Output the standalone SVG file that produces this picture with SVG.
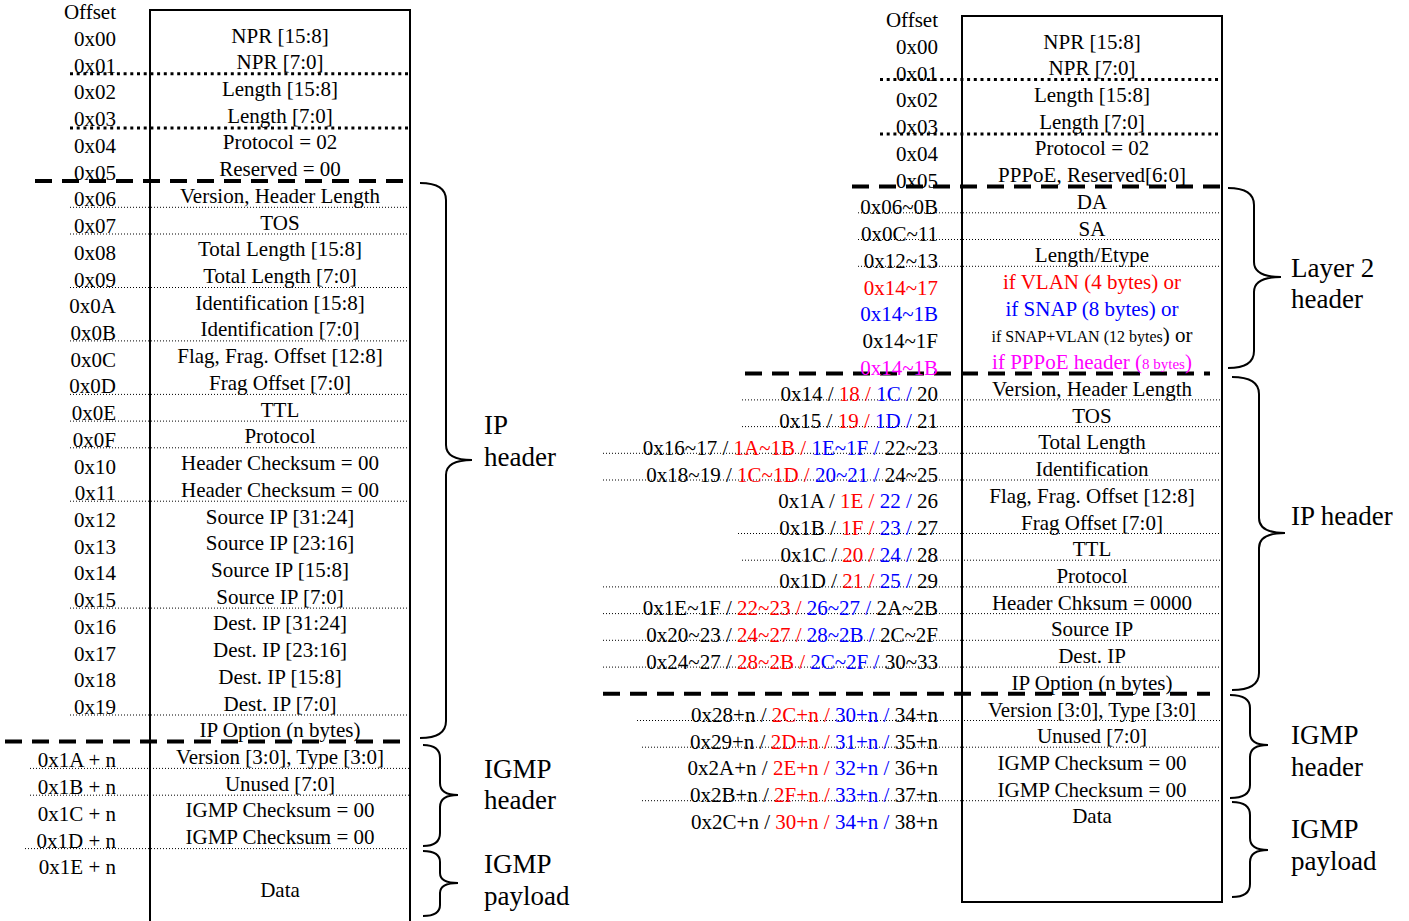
<svg xmlns="http://www.w3.org/2000/svg" width="1409" height="921" viewBox="0 0 1409 921">
<style>
text{font-family:"Liberation Serif","Times New Roman",serif;font-size:21px;fill:#000}
.o{text-anchor:end}
.c{text-anchor:middle}
.lbl{font-size:27px}
.r{fill:#ff0000}
.b{fill:#0000ff}
.m{fill:#ff00ff}
.box{fill:none;stroke:#000;stroke-width:2}
.dT{stroke:#000;stroke-width:3;stroke-dasharray:3 3.7;fill:none}
.d{stroke:#000;stroke-width:1;stroke-dasharray:1 2;fill:none}
.dash{stroke:#000;stroke-width:4;stroke-dasharray:17 10;fill:none}
.br{fill:none;stroke:#000;stroke-width:2}
</style>
<rect width="1409" height="921" fill="#fff"/>

<g id="left-table">
<path class="box" d="M150,921 V10 H410 V921"/>
<g id="left-lines">
<line class="dT" x1="70" y1="73.7" x2="410" y2="73.7"/>
<line class="dT" x1="70" y1="128" x2="410" y2="128"/>
<line class="dash" x1="35" y1="181" x2="410" y2="181"/>
<line class="d" x1="70" y1="207.3" x2="410" y2="207.3"/>
<line class="d" x1="70" y1="234" x2="410" y2="234"/>
<line class="d" x1="70" y1="287.5" x2="410" y2="287.5"/>
<line class="d" x1="70" y1="340.9" x2="410" y2="340.9"/>
<line class="d" x1="70" y1="394.4" x2="410" y2="394.4"/>
<line class="d" x1="70" y1="421.1" x2="410" y2="421.1"/>
<line class="d" x1="70" y1="447.8" x2="410" y2="447.8"/>
<line class="d" x1="70" y1="501.2" x2="410" y2="501.2"/>
<line class="d" x1="70" y1="608.1" x2="410" y2="608.1"/>
<line class="d" x1="70" y1="715" x2="410" y2="715"/>
<line class="dash" x1="5" y1="741.5" x2="410" y2="741.5"/>
<line class="d" x1="30" y1="768.4" x2="410" y2="768.4"/>
<line class="d" x1="30" y1="795.2" x2="410" y2="795.2"/>
<line class="d" x1="25" y1="848.6" x2="410" y2="848.6"/>
</g>
<g id="left-offsets">
<text class="o" x="116" y="19.3">Offset</text>
<text class="o" x="116" y="46">0x00</text>
<text class="o" x="116" y="72.7">0x01</text>
<text class="o" x="116" y="99.4">0x02</text>
<text class="o" x="116" y="126.2">0x03</text>
<text class="o" x="116" y="152.9">0x04</text>
<text class="o" x="116" y="179.6">0x05</text>
<text class="o" x="116" y="206.3">0x06</text>
<text class="o" x="116" y="233">0x07</text>
<text class="o" x="116" y="259.8">0x08</text>
<text class="o" x="116" y="286.5">0x09</text>
<text class="o" x="116" y="313.2">0x0A</text>
<text class="o" x="116" y="339.9">0x0B</text>
<text class="o" x="116" y="366.6">0x0C</text>
<text class="o" x="116" y="393.4">0x0D</text>
<text class="o" x="116" y="420.1">0x0E</text>
<text class="o" x="116" y="446.8">0x0F</text>
<text class="o" x="116" y="473.5">0x10</text>
<text class="o" x="116" y="500.2">0x11</text>
<text class="o" x="116" y="527">0x12</text>
<text class="o" x="116" y="553.7">0x13</text>
<text class="o" x="116" y="580.4">0x14</text>
<text class="o" x="116" y="607.1">0x15</text>
<text class="o" x="116" y="633.8">0x16</text>
<text class="o" x="116" y="660.6">0x17</text>
<text class="o" x="116" y="687.3">0x18</text>
<text class="o" x="116" y="714">0x19</text>
<text class="o" x="116" y="767.4">0x1A + n</text>
<text class="o" x="116" y="794.2">0x1B + n</text>
<text class="o" x="116" y="820.9">0x1C + n</text>
<text class="o" x="116" y="847.6">0x1D + n</text>
<text class="o" x="116" y="874.3">0x1E + n</text>
</g>
<g id="left-fields">
<text class="c" x="280" y="42.5">NPR [15:8]</text>
<text class="c" x="280" y="69.2">NPR [7:0]</text>
<text class="c" x="280" y="95.9">Length [15:8]</text>
<text class="c" x="280" y="122.7">Length [7:0]</text>
<text class="c" x="280" y="149.4">Protocol = 02</text>
<text class="c" x="280" y="176.1">Reserved = 00</text>
<text class="c" x="280" y="202.8">Version, Header Length</text>
<text class="c" x="280" y="229.5">TOS</text>
<text class="c" x="280" y="256.3">Total Length [15:8]</text>
<text class="c" x="280" y="283">Total Length [7:0]</text>
<text class="c" x="280" y="309.7">Identification [15:8]</text>
<text class="c" x="280" y="336.4">Identification [7:0]</text>
<text class="c" x="280" y="363.1">Flag, Frag. Offset [12:8]</text>
<text class="c" x="280" y="389.9">Frag Offset [7:0]</text>
<text class="c" x="280" y="416.6">TTL</text>
<text class="c" x="280" y="443.3">Protocol</text>
<text class="c" x="280" y="470">Header Checksum = 00</text>
<text class="c" x="280" y="496.7">Header Checksum = 00</text>
<text class="c" x="280" y="523.5">Source IP [31:24]</text>
<text class="c" x="280" y="550.2">Source IP [23:16]</text>
<text class="c" x="280" y="576.9">Source IP [15:8]</text>
<text class="c" x="280" y="603.6">Source IP [7:0]</text>
<text class="c" x="280" y="630.3">Dest. IP [31:24]</text>
<text class="c" x="280" y="657.1">Dest. IP [23:16]</text>
<text class="c" x="280" y="683.8">Dest. IP [15:8]</text>
<text class="c" x="280" y="710.5">Dest. IP [7:0]</text>
<text class="c" x="280" y="737.2">IP Option (n bytes)</text>
<text class="c" x="280" y="763.9">Version [3:0], Type [3:0]</text>
<text class="c" x="280" y="790.7">Unused [7:0]</text>
<text class="c" x="280" y="817.4">IGMP Checksum = 00</text>
<text class="c" x="280" y="844.1">IGMP Checksum = 00</text>
<text class="c" x="280" y="897">Data</text>
</g>
</g>

<g id="left-braces">
<g id="left-ip-header">
<path class="br" d="M420,183 Q446,183 446,200 L446,445 Q446,460 472,460 Q446,460 446,475 L446,721 Q446,738 420,738"/>
<text class="lbl" x="484" y="434">IP</text>
<text class="lbl" x="484" y="466">header</text>
</g>
<g id="left-igmp-header">
<path class="br" d="M423,745 Q440,745 440,758 L440,783 Q440,795 458,795 Q440,795 440,807 L440,833 Q440,846 423,846"/>
<text class="lbl" x="484" y="778">IGMP</text>
<text class="lbl" x="484" y="809">header</text>
</g>
<g id="left-igmp-payload">
<path class="br" d="M423,851 Q440,851 440,862 L440,873 Q440,883 458,883 Q440,883 440,893 L440,905 Q440,916 423,916"/>
<text class="lbl" x="484" y="873">IGMP</text>
<text class="lbl" x="484" y="905">payload</text>
</g>
</g>

<g id="right-table">
<rect class="box" x="962" y="16" width="260" height="886"/>
<g id="right-lines">
<line class="dT" x1="880" y1="79.5" x2="1222" y2="79.5"/>
<line class="dT" x1="880" y1="134" x2="1222" y2="134"/>
<line class="dash" x1="852" y1="186.5" x2="1222" y2="186.5"/>
<line class="d" x1="858" y1="212.8" x2="1222" y2="212.8"/>
<line class="d" x1="858" y1="239.5" x2="1222" y2="239.5"/>
<line class="d" x1="858" y1="266.3" x2="1222" y2="266.3"/>
<line class="dash" x1="745" y1="373.5" x2="1210" y2="373.5"/>
<line class="d" x1="742" y1="399.9" x2="1222" y2="399.9"/>
<line class="d" x1="742" y1="426.6" x2="1222" y2="426.6"/>
<line class="d" x1="603" y1="453.3" x2="1222" y2="453.3"/>
<line class="d" x1="603" y1="480" x2="1222" y2="480"/>
<line class="d" x1="738" y1="533.5" x2="1222" y2="533.5"/>
<line class="d" x1="742" y1="560.2" x2="1222" y2="560.2"/>
<line class="d" x1="603" y1="586.9" x2="1222" y2="586.9"/>
<line class="d" x1="603" y1="613.6" x2="1222" y2="613.6"/>
<line class="d" x1="603" y1="640.3" x2="1222" y2="640.3"/>
<line class="d" x1="603" y1="667.1" x2="1222" y2="667.1"/>
<line class="dash" x1="603" y1="693.8" x2="1210" y2="693.8"/>
<line class="d" x1="637" y1="720.5" x2="1222" y2="720.5"/>
<line class="d" x1="642" y1="747.2" x2="1222" y2="747.2"/>
<line class="d" x1="642" y1="800.7" x2="1222" y2="800.7"/>
</g>
<g id="right-offsets">
<text class="o" x="938" y="27.3">Offset</text>
<text class="o" x="938" y="54">0x00</text>
<text class="o" x="938" y="80.7">0x01</text>
<text class="o" x="938" y="107.4">0x02</text>
<text class="o" x="938" y="134.2">0x03</text>
<text class="o" x="938" y="160.9">0x04</text>
<text class="o" x="938" y="187.6">0x05</text>
<text class="o" x="938" y="214.3">0x06~0B</text>
<text class="o" x="938" y="241">0x0C~11</text>
<text class="o" x="938" y="267.8">0x12~13</text>
<text class="o r" x="938" y="294.5">0x14~17</text>
<text class="o b" x="938" y="321.2">0x14~1B</text>
<text class="o" x="938" y="347.9">0x14~1F</text>
<text class="o m" x="938" y="374.6">0x14~1B</text>
<text class="o" x="938" y="401.4">0x14 /<tspan class="r"> 18 /</tspan><tspan class="b"> 1C /</tspan> 20</text>
<text class="o" x="938" y="428.1">0x15 /<tspan class="r"> 19 /</tspan><tspan class="b"> 1D /</tspan> 21</text>
<text class="o" x="938" y="454.8">0x16~17 /<tspan class="r"> 1A~1B /</tspan><tspan class="b"> 1E~1F /</tspan> 22~23</text>
<text class="o" x="938" y="481.5">0x18~19 /<tspan class="r"> 1C~1D /</tspan><tspan class="b"> 20~21 /</tspan> 24~25</text>
<text class="o" x="938" y="508.2">0x1A /<tspan class="r"> 1E /</tspan><tspan class="b"> 22 /</tspan> 26</text>
<text class="o" x="938" y="535">0x1B /<tspan class="r"> 1F /</tspan><tspan class="b"> 23 /</tspan> 27</text>
<text class="o" x="938" y="561.7">0x1C /<tspan class="r"> 20 /</tspan><tspan class="b"> 24 /</tspan> 28</text>
<text class="o" x="938" y="588.4">0x1D /<tspan class="r"> 21 /</tspan><tspan class="b"> 25 /</tspan> 29</text>
<text class="o" x="938" y="615.1">0x1E~1F /<tspan class="r"> 22~23 /</tspan><tspan class="b"> 26~27 /</tspan> 2A~2B</text>
<text class="o" x="938" y="641.8">0x20~23 /<tspan class="r"> 24~27 /</tspan><tspan class="b"> 28~2B /</tspan> 2C~2F</text>
<text class="o" x="938" y="668.6">0x24~27 /<tspan class="r"> 28~2B /</tspan><tspan class="b"> 2C~2F /</tspan> 30~33</text>
<text class="o" x="938" y="722">0x28+n /<tspan class="r"> 2C+n /</tspan><tspan class="b"> 30+n /</tspan> 34+n</text>
<text class="o" x="938" y="748.7">0x29+n /<tspan class="r"> 2D+n /</tspan><tspan class="b"> 31+n /</tspan> 35+n</text>
<text class="o" x="938" y="775.4">0x2A+n /<tspan class="r"> 2E+n /</tspan><tspan class="b"> 32+n /</tspan> 36+n</text>
<text class="o" x="938" y="802.2">0x2B+n /<tspan class="r"> 2F+n /</tspan><tspan class="b"> 33+n /</tspan> 37+n</text>
<text class="o" x="938" y="828.9">0x2C+n /<tspan class="r"> 30+n /</tspan><tspan class="b"> 34+n /</tspan> 38+n</text>
</g>
<g id="right-fields">
<text class="c" x="1092" y="48.5">NPR [15:8]</text>
<text class="c" x="1092" y="75.2">NPR [7:0]</text>
<text class="c" x="1092" y="101.9">Length [15:8]</text>
<text class="c" x="1092" y="128.7">Length [7:0]</text>
<text class="c" x="1092" y="155.4">Protocol = 02</text>
<text class="c" x="1092" y="182.1">PPPoE, Reserved[6:0]</text>
<text class="c" x="1092" y="208.8">DA</text>
<text class="c" x="1092" y="235.5">SA</text>
<text class="c" x="1092" y="262.3">Length/Etype</text>
<text class="c r" x="1092" y="289">if VLAN (4 bytes) or</text>
<text class="c b" x="1092" y="315.7">if SNAP (8 bytes) or</text>
<text class="c" x="1092" y="342.4"><tspan font-size="16">if SNAP+VLAN (12 bytes</tspan>) or</text>
<text class="c m" x="1092" y="369.1">if PPPoE header (<tspan font-size="15">8 bytes</tspan>)</text>
<text class="c" x="1092" y="395.9">Version, Header Length</text>
<text class="c" x="1092" y="422.6">TOS</text>
<text class="c" x="1092" y="449.3">Total Length</text>
<text class="c" x="1092" y="476">Identification</text>
<text class="c" x="1092" y="502.7">Flag, Frag. Offset [12:8]</text>
<text class="c" x="1092" y="529.5">Frag Offset [7:0]</text>
<text class="c" x="1092" y="556.2">TTL</text>
<text class="c" x="1092" y="582.9">Protocol</text>
<text class="c" x="1092" y="609.6">Header Chksum = 0000</text>
<text class="c" x="1092" y="636.3">Source IP</text>
<text class="c" x="1092" y="663.1">Dest. IP</text>
<text class="c" x="1092" y="689.8">IP Option (n bytes)</text>
<text class="c" x="1092" y="716.5">Version [3:0], Type [3:0]</text>
<text class="c" x="1092" y="743.2">Unused [7:0]</text>
<text class="c" x="1092" y="769.9">IGMP Checksum = 00</text>
<text class="c" x="1092" y="796.7">IGMP Checksum = 00</text>
<text class="c" x="1092" y="823.4">Data</text>
</g>
</g>

<g id="right-braces">
<g id="right-layer2-header">
<path class="br" d="M1228,188 Q1254,188 1254,205 L1254,262 Q1254,277 1281,277 Q1254,277 1254,292 L1254,351 Q1254,368 1228,368"/>
<text class="lbl" x="1291" y="277">Layer 2</text>
<text class="lbl" x="1291" y="308">header</text>
</g>
<g id="right-ip-header">
<path class="br" d="M1232,377 Q1259,377 1259,394 L1259,518 Q1259,533 1285,533 Q1259,533 1259,548 L1259,673 Q1259,690 1232,690"/>
<text class="lbl" x="1291" y="525">IP header</text>
</g>
<g id="right-igmp-header">
<path class="br" d="M1230,695 Q1250,695 1250,708 L1250,733 Q1250,745 1268,745 Q1250,745 1250,757 L1250,785 Q1250,798 1230,798"/>
<text class="lbl" x="1291" y="744">IGMP</text>
<text class="lbl" x="1291" y="776">header</text>
</g>
<g id="right-igmp-payload">
<path class="br" d="M1232,802 Q1250,802 1250,815 L1250,838 Q1250,850 1268,850 Q1250,850 1250,862 L1250,884 Q1250,897 1232,897"/>
<text class="lbl" x="1291" y="838">IGMP</text>
<text class="lbl" x="1291" y="870">payload</text>
</g>
</g>
</svg>
